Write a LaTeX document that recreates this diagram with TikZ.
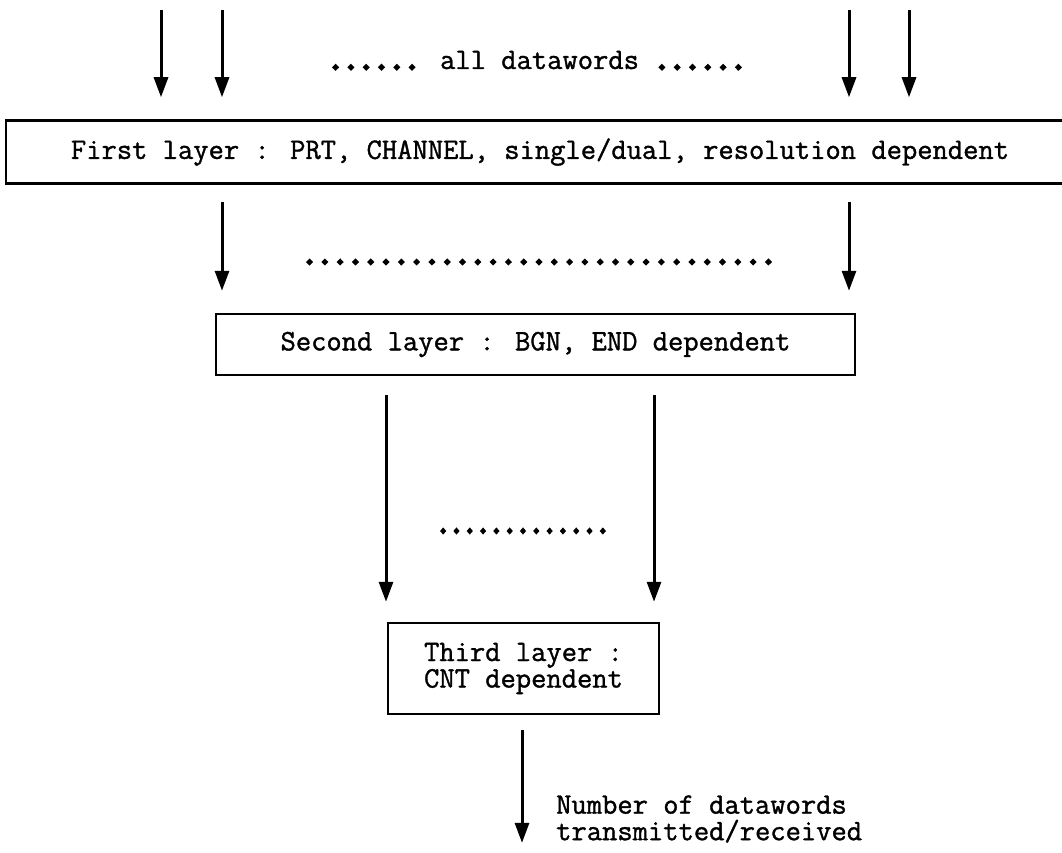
\documentclass[tikz,border=0pt]{standalone}
\usepackage{fontspec}
\newfontfamily\tw[FakeBold=1.2]{Latin Modern Mono}
\newfontfamily\twd[FakeBold=9]{Latin Modern Mono}
\usetikzlibrary{arrows.meta}
\tikzset{
  every node/.style={font=\tw\fontsize{29.7}{26.5}\selectfont, text=black},
  arr/.style={line width=3pt, -{Triangle[length=20pt,width=14pt]}},
  layerbox/.style={draw, line width=2.5pt, inner sep=0pt, align=center},
}
\newcommand{\dts}[1]{{\twd #1}}
\begin{document}
\begin{tikzpicture}[x=1pt,y=-1pt]
\useasboundingbox (0,0) rectangle (1062,853);
% boxes
\node[layerbox, minimum width=1068pt, minimum height=63pt] (box1) at (540,152)
  {First layer : PRT, CHANNEL, single/dual, resolution dependent};
\node[layerbox, minimum width=639pt, minimum height=61pt] (box2) at (535.5,344.5)
  {Second layer : BGN, END dependent};
\node[layerbox, minimum width=271pt, minimum height=91pt] (box3) at (523.5,668.5)
  {Third layer :\\CNT dependent};
% dotted texts
\node (alldw) at (537,60) {\dts{......} all datawords \dts{......}};
\node (dots2) at (539,262) {\dts{...............................}};
\node (dots3) at (523,531) {\scalebox{0.87}[1]{\dts{.............}}};
% output label
\node[anchor=west, align=left, inner sep=0pt] (out) at (556,819)
  {Number of datawords\\transmitted/received};
% start coordinates
\coordinate (s1) at (161,10);
\coordinate (s2) at (222,10);
\coordinate (s3) at (849,10);
\coordinate (s4) at (909,10);
\coordinate (m1) at (222,202);
\coordinate (m2) at (849,202);
\coordinate (n1) at (386,395);
\coordinate (n2) at (654,395);
\coordinate (o1) at (522,730);
% arrows into first layer
\foreach \s in {s1,s2,s3,s4}
  \draw[arr] (\s) -- ([yshift=22pt]\s |- box1.north);
% arrows into second layer
\foreach \s in {m1,m2}
  \draw[arr] (\s) -- ([yshift=22pt]\s |- box2.north);
% arrows into third layer
\foreach \s in {n1,n2}
  \draw[arr] (\s) -- ([yshift=20pt]\s |- box3.north);
% output arrow
\draw[arr] (o1) -- (o1 |- out.south);
\end{tikzpicture}
\end{document}
